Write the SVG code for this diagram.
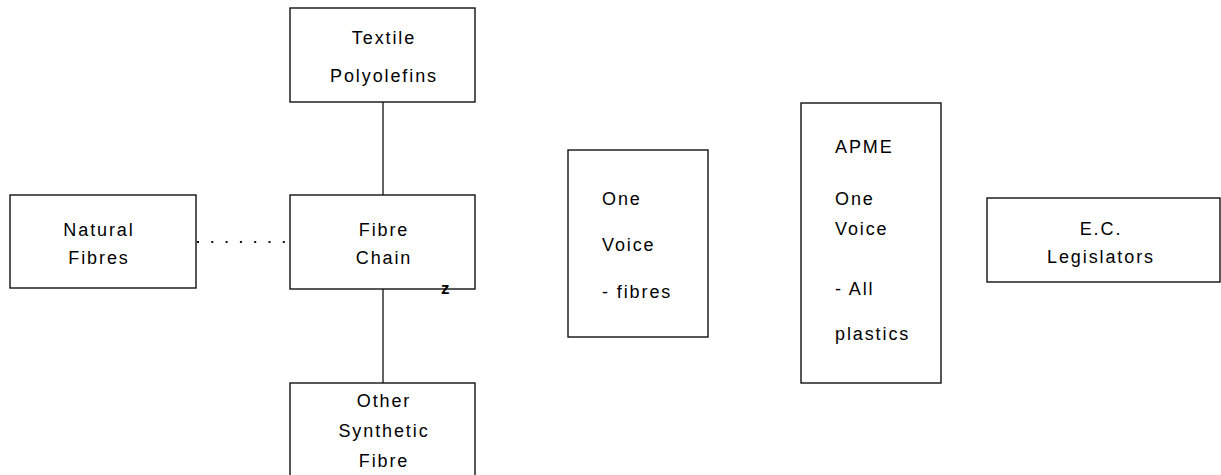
<svg xmlns="http://www.w3.org/2000/svg" width="1221" height="475" viewBox="0 0 1221 475">
<style>
.box{fill:#fff;stroke:#111;stroke-width:1.4}
.t{font-family:"Liberation Sans",Arial,sans-serif;font-size:18px;letter-spacing:1.9px;fill:#000}
.c{text-anchor:middle}
.ln{stroke:#111;stroke-width:1.3;fill:none}
.dot{stroke:#111;stroke-width:2;stroke-dasharray:2 12.3;fill:none}
</style>
<rect width="1221" height="475" fill="#fff"/>
<g id="connectors">
<line class="ln" x1="383" y1="102" x2="383" y2="195"/>
<line class="ln" x1="383" y1="289" x2="383" y2="383"/>
<line class="dot" x1="197" y1="242" x2="290" y2="242"/>
</g>
<g id="textile">
<rect class="box" x="290" y="8" width="185" height="94"/>
<text class="t c" x="384" y="44">Textile</text>
<text class="t c" x="384" y="82">Polyolefins</text>
</g>
<g id="natural">
<rect class="box" x="10" y="195" width="186" height="93"/>
<text class="t c" x="99" y="236">Natural</text>
<text class="t c" x="99" y="264">Fibres</text>
</g>
<g id="fibrechain">
<rect class="box" x="290" y="195" width="185" height="94"/>
<text class="t c" x="384" y="236">Fibre</text>
<text class="t c" x="384" y="264">Chain</text>
<text x="441" y="294" style="font-family:'Liberation Sans',Arial,sans-serif;font-size:17px;font-weight:bold;fill:#000">z</text>
</g>
<g id="other">
<rect class="box" x="290" y="383" width="185" height="100"/>
<text class="t c" x="384" y="407">Other</text>
<text class="t c" x="384" y="437">Synthetic</text>
<text class="t c" x="384" y="467">Fibre</text>
</g>
<g id="onevoice">
<rect class="box" x="568" y="150" width="140" height="187"/>
<text class="t" x="602" y="205">One</text>
<text class="t" x="602" y="251">Voice</text>
<text class="t" x="602" y="298">- fibres</text>
</g>
<g id="apme">
<rect class="box" x="801" y="103" width="140" height="280"/>
<text class="t" x="835" y="153">APME</text>
<text class="t" x="835" y="205">One</text>
<text class="t" x="835" y="235">Voice</text>
<text class="t" x="835" y="295">- All</text>
<text class="t" x="835" y="340">plastics</text>
</g>
<g id="ec">
<rect class="box" x="987" y="198" width="233" height="84"/>
<text class="t c" x="1101" y="235">E.C.</text>
<text class="t c" x="1101" y="263">Legislators</text>
</g>
</svg>
